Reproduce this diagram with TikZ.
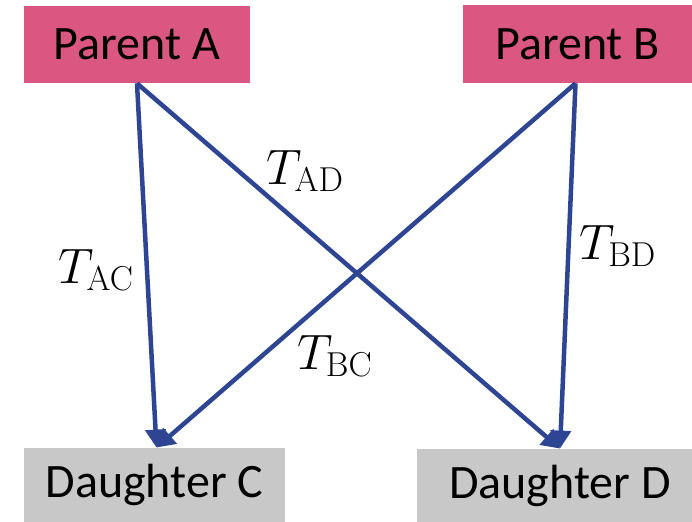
\documentclass[tikz,border=0pt]{standalone}
\usepackage[no-math]{fontspec}
\setmainfont{Carlito}
\usetikzlibrary{arrows.meta}
\definecolor{parentpink}{RGB}{217,87,128}
\definecolor{daughtergray}{RGB}{200,200,200}
\definecolor{linkblue}{RGB}{46,69,148}
\begin{document}
\begin{tikzpicture}[x=0.5pt,y=-0.5pt,
  parentbox/.style={fill=parentpink,draw=none,inner sep=0pt,font=\fontsize{24}{29}\selectfont},
  daughterbox/.style={fill=daughtergray,draw=none,inner sep=0pt,font=\fontsize{24}{29}\selectfont},
  link/.style={draw=linkblue,line width=2.25pt,-{Triangle[length=9pt,width=10pt]}},
  tlabel/.style={inner sep=0pt,font=\fontsize{23}{27}\selectfont}]
\useasboundingbox (0,0) rectangle (692,522);
\begin{scope}
\clip (0,0) rectangle (692,522);
\node[parentbox,minimum width=113pt,minimum height=38.5pt] (PA) at (137,44.5) {Parent A};
\node[parentbox,minimum width=114.5pt,minimum height=39pt] (PB) at (577.5,44) {Parent B};
\node[daughterbox,minimum width=130.5pt,minimum height=37pt] (DC) at (154.5,485) {Daughter C};
\node[daughterbox,minimum width=143pt,minimum height=36.5pt] (DD) at (560,485.5) {Daughter D};
\end{scope}
\draw[link] (PA.south) -- ([xshift=1pt]DC.north);
\draw[link] ([xshift=-1pt]PB.south) -- ([xshift=1pt]DC.north);
\draw[link] (PA.south) -- (DD.north);
\draw[link] ([xshift=-1pt]PB.south) -- (DD.north);
\node[tlabel] (LAC) at (96,270) {$T_{\mathrm{AC}}$};
\node[tlabel] (LAD) at (305,171) {$T_{\mathrm{AD}}$};
\node[tlabel] (LBD) at (618,246) {$T_{\mathrm{BD}}$};
\node[tlabel] (LBC) at (335,356) {$T_{\mathrm{BC}}$};
\end{tikzpicture}
\end{document}
